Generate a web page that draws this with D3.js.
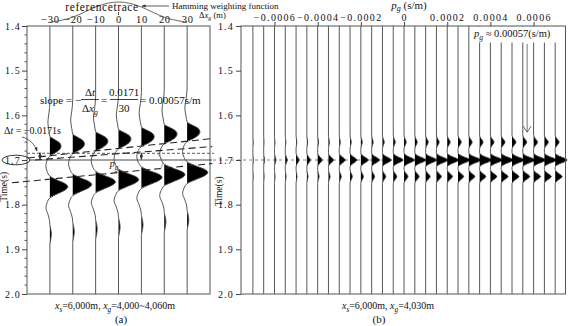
<!DOCTYPE html>
<html>
<head>
<meta charset="utf-8">
<script src="https://cdn.jsdelivr.net/npm/d3@7"></script>
<style>
    body { margin: 0; background: #fff; }
    svg { display: block; font-family: "Liberation Serif", "Times New Roman", serif; }
</style>
</head>
<body>
<div id="chart"></div>
<script>
// ---- panel (a): CRP gather, offsets in m ----
const offsetsA = [-30, -20, -10, 0, 10, 20, 30]
const moveoutA = [0, -0.005, -0.011, -0.016, -0.021, -0.027, -0.032]
const gainA = [1.0, 1.05, 1.1, 1.12, 1.15, 1.15, 1.15]
const waveTimesA = [1.40, 1.57, 1.595, 1.615, 1.635, 1.647, 1.655, 1.662, 1.669, 1.676, 1.684, 1.691,
    1.700, 1.713, 1.726, 1.736, 1.745, 1.753, 1.760, 1.767, 1.776, 1.785, 1.795, 1.807, 1.820,
    1.835, 1.845, 1.855, 1.866, 1.877, 1.890, 2.00]
const waveAmpA = [0, 0, -0.05, -0.11, -0.05, 0, 0.3, 0.55, 0.62, 0.55, 0.3, 0,
    -0.15, -0.22, -0.15, 0, 0.4, 0.85, 1.0, 0.85, 0.4, 0, -0.15, -0.22, -0.12,
    -0.02, 0, 0.05, 0.08, 0.05, 0, 0]
const hammingA = [0.08, 0.31, 0.77, 1, 0.77, 0.31, 0.08]

// ---- panel (b): slant stack, p in s/m ----
const pValuesB = [-0.0007, -0.00065, -0.0006, -0.00055, -0.0005, -0.00045, -0.0004, -0.00035,
    -0.0003, -0.00025, -0.0002, -0.00015, -0.0001, -0.00005, 0, 0.00005, 0.0001, 0.00015,
    0.0002, 0.00025, 0.0003, 0.00035, 0.0004, 0.00045, 0.0005, 0.00055, 0.0006, 0.00065, 0.0007]
const eventTimesB = [1.66, 1.70, 1.737]
const ampUpperB = [0.03, 0.03, 0.04, 0.05, 0.06, 0.07, 0.08, 0.08, 0.09, 0.1, 0.12, 0.13, 0.15, 0.17,
    0.18, 0.2, 0.22, 0.23, 0.25, 0.27, 0.28, 0.29, 0.3, 0.32, 0.33, 0.33, 0.33, 0.33, 0.33]
const ampMidB = [0.04, 0.08, 0.13, 0.17, 0.25, 0.29, 0.38, 0.42, 0.5, 0.58, 0.63, 0.67, 0.75, 0.83,
    0.88, 0.92, 0.92, 0.96, 0.96, 1, 1, 1, 1, 1, 1, 1, 1, 1, 1]
const ampLowerB = [0.03, 0.04, 0.05, 0.07, 0.08, 0.1, 0.12, 0.14, 0.17, 0.19, 0.22, 0.25, 0.28, 0.3,
    0.33, 0.36, 0.38, 0.42, 0.44, 0.47, 0.5, 0.52, 0.54, 0.57, 0.58, 0.58, 0.58, 0.58, 0.58]
const lobeOffsetsB = [-0.016, -0.012, -0.008, -0.004, 0, 0.004, 0.008, 0.012, 0.016]
const lobeShapeB = [0, 0.12, 0.4, 0.78, 1, 0.78, 0.4, 0.12, 0]

const timeTicks = [1.4, 1.5, 1.6, 1.7, 1.8, 1.9, 2.0]
const pTicks = [-0.0006, -0.0004, -0.0002, 0, 0.0002, 0.0004, 0.0006]
const pSlope = 0.00057

// ---- svg ----
const width = 568, height = 326
const svg = d3.select("#chart").append("svg")
    .attr("width", width)
    .attr("height", height)

const defs = svg.append("defs")
defs.append("marker")
    .attr("id", "head")
    .attr("viewBox", "0 0 10 10")
    .attr("refX", 9).attr("refY", 5)
    .attr("markerWidth", 5).attr("markerHeight", 5)
    .attr("orient", "auto-start-reverse")
    .append("path")
    .attr("d", "M0,1 L10,5 L0,9 z")
    .attr("fill", "#333")

// scales
const y = d3.scaleLinear().domain([1.4, 2.0]).range([26, 294])
const xA = d3.scaleLinear().domain([-40, 40]).range([27, 210])
const xB = d3.scaleLinear().domain([-0.000755, 0.00075]).range([241, 566])
const ampA = d3.scaleLinear().domain([0, 1]).range([0, 18])
const ampB = d3.scaleLinear().domain([0, 1]).range([0, 12])
const hammingY = d3.scaleLinear().domain([0, 1]).range([24, 2])

// text with italic / subscript parts
function rich(parent, x, yy, parts, size, anchor) {
    let t = parent.append("text")
        .attr("x", x).attr("y", yy)
        .attr("font-size", size)
        .attr("text-anchor", anchor || "start")
        .attr("fill", "#111")
    let shift = 0
    parts.forEach(([s, kind]) => {
        let target = kind === "sub" ? size * 0.25 : 0
        let ts = t.append("tspan").text(s).attr("dy", target - shift)
        shift = target
        if (kind === "sub") ts.attr("font-size", size * 0.72)
        if (kind === "i" || kind === "sub") ts.attr("font-style", "italic")
    })
    return t
}

// wiggle trace with filled positive side
function drawTrace(g, base, samples, amp) {
    let area = d3.area()
        .y(d => y(d.t))
        .x0(base)
        .x1(d => base + amp(Math.max(0, d.a)))
        .curve(d3.curveMonotoneY)
    let line = d3.line()
        .y(d => y(d.t))
        .x(d => base + amp(d.a))
        .curve(d3.curveMonotoneY)
    g.append("path").datum(samples).attr("d", area).attr("fill", "#000")
    g.append("path").datum(samples).attr("d", line)
        .attr("fill", "none").attr("stroke", "#444").attr("stroke-width", 0.9)
}

function styleAxis(g, size, spacing) {
    g.select(".domain").remove()
    g.selectAll(".tick line").attr("stroke", "#444")
    g.selectAll(".tick text")
        .attr("font-family", "Liberation Serif, serif")
        .attr("font-size", size)
        .attr("letter-spacing", spacing)
        .attr("fill", "#111")
}

const fmtTime = d3.format(".1f")

// ================= panel (a) =================
const ga = svg.append("g")

ga.append("rect")
    .attr("x", xA(-40)).attr("y", y(1.4))
    .attr("width", xA(40) - xA(-40)).attr("height", y(2.0) - y(1.4))
    .attr("fill", "none").attr("stroke", "#555")

// left time axis with minor ticks
const axA = ga.append("g").attr("transform", `translate(${xA(-40)},0)`)
    .call(d3.axisLeft(y).tickValues(timeTicks).tickSize(5).tickPadding(1).tickFormat(fmtTime))
styleAxis(axA, 10, "1.2px")
ga.selectAll(".minor")
    .data(y.ticks(30).filter(t => !timeTicks.some(m => Math.abs(m - t) < 1e-6)))
    .enter().append("line")
    .attr("class", "minor")
    .attr("x1", xA(-40) - 2.5).attr("x2", xA(-40))
    .attr("y1", d => y(d)).attr("y2", d => y(d))
    .attr("stroke", "#555")

// top offset labels
const topA = ga.append("g").attr("transform", `translate(0,${y(1.4)})`)
    .call(d3.axisTop(xA).tickValues(offsetsA).tickSize(0).tickPadding(3))
styleAxis(topA, 10.5, "0.6px")

// Hamming weighting curve
ga.append("path")
    .datum(offsetsA.map((o, i) => [o, hammingA[i]]))
    .attr("d", d3.line().x(d => xA(d[0])).y(d => hammingY(d[1])).curve(d3.curveNatural))
    .attr("fill", "none").attr("stroke", "#444").attr("stroke-width", 0.8)

// reference lines at 1.7 s
ga.append("line")
    .attr("x1", xA(-40) + 2).attr("x2", xA(40) + 2)
    .attr("y1", y(1.7)).attr("y2", y(1.7))
    .attr("stroke", "#333").attr("stroke-width", 0.9)
ga.append("line")
    .attr("x1", xA(-40)).attr("x2", xA(40) + 4)
    .attr("y1", y(1.685)).attr("y2", y(1.685))
    .attr("stroke", "#333").attr("stroke-width", 0.8).attr("stroke-dasharray", "3,2")

// traces
offsetsA.forEach((o, i) => {
    let last = waveTimesA.length - 1
    let samples = waveTimesA.map((t, k) => ({
        t: (k === 0 || k === last) ? t : t + moveoutA[i],
        a: waveAmpA[k]
    }))
    drawTrace(ga, xA(o), samples, a => gainA[i] * ampA(a))
})

// slant dashed lines through the events
const fanA = [
    { x1: -39.6, t1: 1.6955, x2: 41, t2: 1.652 },
    { x1: -36.5, t1: 1.700, x2: 41, t2: 1.670 },
    { x1: -46.6, t1: 1.751, x2: 41, t2: 1.708 }
]
ga.selectAll(".fan").data(fanA).enter().append("line")
    .attr("class", "fan")
    .attr("x1", d => xA(d.x1)).attr("y1", d => y(d.t1))
    .attr("x2", d => xA(d.x2)).attr("y2", d => y(d.t2))
    .attr("stroke", "#222").attr("stroke-width", 1.1).attr("stroke-dasharray", "7,4")

// angle arc and small arrows
ga.append("path")
    .attr("d", `M${xA(17)},${y(1.686)} Q${xA(21)},${y(1.705)} ${xA(18)},${y(1.722)}`)
    .attr("fill", "none").attr("stroke", "#777").attr("stroke-width", 0.7)
ga.append("line")
    .attr("x1", xA(10)).attr("x2", xA(10))
    .attr("y1", y(1.684)).attr("y2", y(1.699))
    .attr("stroke", "#333").attr("stroke-width", 0.8)
    .attr("marker-start", "url(#head)").attr("marker-end", "url(#head)")
ga.append("line")
    .attr("x1", 40).attr("x2", 40)
    .attr("y1", y(1.683)).attr("y2", y(1.699))
    .attr("stroke", "#333").attr("stroke-width", 0.8)
    .attr("marker-start", "url(#head)").attr("marker-end", "url(#head)")

// circled 1.7 and delta-t note
ga.append("ellipse")
    .attr("cx", 16).attr("cy", y(1.7))
    .attr("rx", 14).attr("ry", 4.8)
    .attr("fill", "none").attr("stroke", "#222").attr("stroke-width", 0.9)
rich(ga, 4, 134, [["Δ", ""], ["t", "i"], [" = −0.0171s", ""]], 10)
ga.append("path")
    .attr("d", "M22,137 C30,139 35,145 37,151")
    .attr("fill", "none").attr("stroke", "#333").attr("stroke-width", 0.8)
    .attr("marker-end", "url(#head)")
rich(ga, xA(-2), y(1.716), [["p", "i"], ["g", "sub"]], 10, "middle")

// slope equation
rich(ga, 40, 104, [["slope = −", ""]], 11)
rich(ga, 90, 96, [["Δ", ""], ["t", "i"]], 11, "middle")
ga.append("line").attr("x1", 81).attr("x2", 99).attr("y1", 99.5).attr("y2", 99.5).attr("stroke", "#111").attr("stroke-width", 0.8)
rich(ga, 90, 112, [["Δ", ""], ["x", "i"], ["g", "sub"]], 11, "middle")
rich(ga, 101, 104, [["=", ""]], 11)
rich(ga, 124, 96, [["0.0171", ""]], 11, "middle")
ga.append("line").attr("x1", 110).attr("x2", 138).attr("y1", 99.5).attr("y2", 99.5).attr("stroke", "#111").attr("stroke-width", 0.8)
rich(ga, 124, 112, [["30", ""]], 11, "middle")
rich(ga, 140, 104, [["= 0.00057s/m", ""]], 11)

// titles above panel (a)
rich(ga, 102, 11, [["referencetrace", ""]], 11.5, "middle").attr("letter-spacing", "0.6px")
ga.append("line")
    .attr("x1", xA(0)).attr("x2", xA(0)).attr("y1", 12).attr("y2", 15)
    .attr("stroke", "#333").attr("stroke-width", 0.8)
ga.append("line")
    .attr("x1", 169).attr("x2", 142).attr("y1", 6).attr("y2", 6)
    .attr("stroke", "#333").attr("stroke-width", 0.8)
    .attr("marker-end", "url(#head)")
rich(ga, 172, 9, [["Hamming weighting function", ""]], 9)
rich(ga, 199, 18, [["Δ", ""], ["x", "i"], ["g", "sub"], [" (m)", ""]], 8.5)

ga.append("text")
    .attr("transform", `translate(7,${y(1.76)}) rotate(-90)`)
    .attr("text-anchor", "middle").attr("font-size", 9.5).attr("fill", "#111")
    .text("Time(s)")

rich(ga, 115, 309, [["x", "i"], ["s", "sub"], ["=6,000m, ", ""], ["x", "i"], ["g", "sub"], ["=4,000~4,060m", ""]], 10, "middle")
rich(ga, 121, 323, [["(a)", ""]], 11, "middle")

// ================= panel (b) =================
const gb = svg.append("g")

// dashed 1.7 s reference
gb.append("line")
    .attr("x1", 213).attr("x2", xB.range()[1])
    .attr("y1", y(1.7)).attr("y2", y(1.7))
    .attr("stroke", "#666").attr("stroke-width", 0.8).attr("stroke-dasharray", "3,3")

pValuesB.forEach((p, i) => {
    let amps = [ampUpperB[i], ampMidB[i], ampLowerB[i]]
    let samples = [{ t: 1.4, a: 0 }]
    eventTimesB.forEach((te, e) => {
        lobeOffsetsB.forEach((o, k) => samples.push({ t: te + o, a: amps[e] * lobeShapeB[k] }))
    })
    samples.push({ t: 2.0, a: 0 })
    drawTrace(gb, xB(p), samples, ampB)
})

// label box hides the trace tops
gb.append("rect")
    .attr("x", xB(0.0003) + 1.5).attr("y", y(1.4) + 0.5)
    .attr("width", xB.range()[1] - xB(0.0003) - 1.5).attr("height", 16)
    .attr("fill", "#fff")
rich(gb, 474, 37, [["p", "i"], ["g", "sub"], [" ≈ 0.00057(s/m)", ""]], 10.5)

// arrow pointing at p = 0.00057
gb.append("line")
    .attr("x1", xB(pSlope)).attr("x2", xB(pSlope))
    .attr("y1", 44).attr("y2", y(1.66) - 10)
    .attr("stroke", "#666").attr("stroke-width", 0.9)
gb.append("path")
    .attr("d", `M${xB(pSlope) - 4},${y(1.66) - 16} L${xB(pSlope)},${y(1.66) - 10} L${xB(pSlope) + 4},${y(1.66) - 16}`)
    .attr("fill", "none").attr("stroke", "#555").attr("stroke-width", 0.9)

gb.append("rect")
    .attr("x", xB.range()[0]).attr("y", y(1.4))
    .attr("width", xB.range()[1] - xB.range()[0] - 0.5).attr("height", y(2.0) - y(1.4))
    .attr("fill", "none").attr("stroke", "#555")

const axB = gb.append("g").attr("transform", `translate(${xB.range()[0]},0)`)
    .call(d3.axisLeft(y).tickValues(timeTicks).tickSize(5).tickPadding(2).tickFormat(fmtTime))
styleAxis(axB, 10, "1.2px")

const topB = gb.append("g").attr("transform", `translate(0,${y(1.4)})`)
    .call(d3.axisTop(xB).tickValues(pTicks).tickSize(4).tickPadding(1)
        .tickFormat(d => d === 0 ? "0" : d3.format(".4f")(d)))
styleAxis(topB, 10, "1.3px")

rich(gb, 409, 8.5, [["p", "i"], ["g", "sub"], [" (s/m)", ""]], 11, "middle")

gb.append("text")
    .attr("transform", `translate(222,${y(1.77)}) rotate(-90)`)
    .attr("text-anchor", "middle").attr("font-size", 9.5).attr("fill", "#111")
    .text("Time(s)")

rich(gb, 388, 309, [["x", "i"], ["s", "sub"], ["=6,000m, ", ""], ["x", "i"], ["g", "sub"], ["=4,030m", ""]], 10, "middle")
rich(gb, 379, 323, [["(b)", ""]], 11, "middle")
</script>
</body>
</html>
